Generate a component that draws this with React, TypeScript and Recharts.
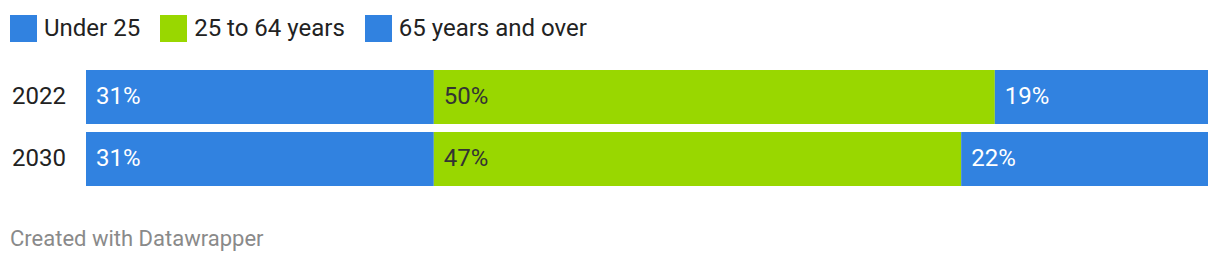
import { Bar, BarChart, LabelList, XAxis, YAxis } from "recharts";

const years = ["2022", "2030"];
const under25 = [31, 31];
const age25to64 = [50, 47];
const age65plus = [19, 22];

const series = [
  { key: "under25", name: "Under 25", color: "#3182e0", text: "#ffffff" },
  { key: "age25to64", name: "25 to 64 years", color: "#99d700", text: "#333333" },
  { key: "age65plus", name: "65 years and over", color: "#3182e0", text: "#ffffff" },
];

const data = years.map((year, i) => ({
  year,
  under25: under25[i],
  age25to64: age25to64[i],
  age65plus: age65plus[i],
}));

const FONT = "Roboto, 'Noto Sans', sans-serif";

function LegendRow() {
  return (
    <div style={{ position: "absolute", left: 10, top: 15, display: "flex", alignItems: "center", fontFamily: FONT }}>
      {series.map((s) => (
        <div key={s.key} style={{ display: "flex", alignItems: "center", marginRight: 20 }}>
          <div style={{ width: 27, height: 27, background: s.color, marginRight: 7 }} />
          <span style={{ fontSize: 24, color: "#222", lineHeight: "27px" }}>{s.name}</span>
        </div>
      ))}
    </div>
  );
}

function YearTick(props: any) {
  const { y, payload } = props;
  return (
    <text x={12} y={y} dy="0.3em" fill="#222" fontSize={24} fontFamily={FONT} textAnchor="start">
      {payload.value}
    </text>
  );
}

function valueLabel(color: string) {
  return (props: any) => {
    const { x, y, height, value } = props;
    return (
      <text x={x + 10} y={y + height / 2} dy="0.3em" fill={color} fontSize={24} fontFamily={FONT}>
        {value}%
      </text>
    );
  };
}

export default function App() {
  return (
    <div style={{ position: "absolute", left: 0, top: 0, width: 1220, height: 262, background: "#fff" }}>
      <LegendRow />
      <BarChart
        width={1220}
        height={262}
        data={data}
        layout="vertical"
        margin={{ top: 66, right: 12, bottom: 72, left: 0 }}
      >
        <XAxis type="number" domain={[0, 100]} hide />
        <YAxis type="category" dataKey="year" width={86} axisLine={false} tickLine={false} tick={<YearTick />} />
        {series.map((s) => (
          <Bar key={s.key} dataKey={s.key} name={s.name} stackId="a" fill={s.color} barSize={54} isAnimationActive={false}>
            <LabelList dataKey={s.key} content={valueLabel(s.text)} />
          </Bar>
        ))}
      </BarChart>
      <div style={{ position: "absolute", left: 10, top: 226, fontFamily: FONT, fontSize: 22, color: "#8a8a8a" }}>
        Created with Datawrapper
      </div>
    </div>
  );
}
